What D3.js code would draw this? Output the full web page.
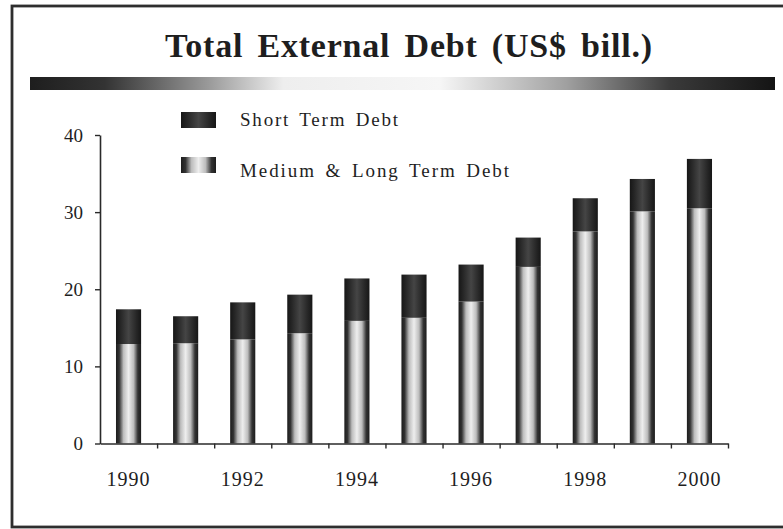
<!DOCTYPE html>
<html>
<head>
<meta charset="utf-8">
<script src="https://cdn.jsdelivr.net/npm/d3@7"></script>
<style>
  html, body { margin: 0; padding: 0; background: #fff; }
  svg { display: block; }
  text { font-family: "Liberation Serif", "Times New Roman", serif; fill: #1e1e1e; }
</style>
</head>
<body>
<svg id="chart" width="783" height="529"></svg>
<script>
// External debt, US$ billions
const years = ["1990","1991","1992","1993","1994","1995","1996","1997","1998","1999","2000"];
const mediumLongTerm = [12.9, 13.0, 13.5, 14.3, 15.9, 16.3, 18.4, 22.9, 27.5, 30.1, 30.5];
const shortTerm      = [4.5, 3.5, 4.8, 5.0, 5.5, 5.6, 4.8, 3.8, 4.3, 4.2, 6.4];
const yTicks = [0, 10, 20, 30, 40];
const yearLabels = ["1990","1992","1994","1996","1998","2000"];
const seriesNames = ["Short Term Debt", "Medium & Long Term Debt"];

const svg = d3.select("#chart");
const defs = svg.append("defs");

// cylinder-style shading for the bars and legend swatches
function hGradient(id, stops) {
  const g = defs.append("linearGradient").attr("id", id)
    .attr("x1", "0%").attr("x2", "100%").attr("y1", "0%").attr("y2", "0%");
  stops.forEach(([o, c]) => g.append("stop").attr("offset", o).attr("stop-color", c));
}
hGradient("gShort", [[0, "#161616"], [0.18, "#262626"], [0.5, "#454545"], [0.82, "#262626"], [1, "#161616"]]);
hGradient("gMedium", [[0, "#1c1c1c"], [0.13, "#333"], [0.3, "#bdbdbd"], [0.5, "#eeeeee"], [0.7, "#bdbdbd"], [0.87, "#333"], [1, "#1c1c1c"]]);
hGradient("gRule", [[0, "#1e1e1e"], [0.1, "#333"], [0.24, "#9a9a9a"], [0.34, "#eeeeee"], [0.55, "#f6f6f6"], [0.72, "#a0a0a0"], [0.86, "#3a3a3a"], [1, "#141414"]]);

// outer frame
svg.append("rect")
  .attr("x", 12).attr("y", 6).attr("width", 790).attr("height", 521)
  .attr("fill", "none").attr("stroke", "#2e2e2e").attr("stroke-width", 2.8);

// title and shaded rule under it
svg.append("text")
  .attr("x", 165).attr("y", 57)
  .attr("textLength", 487).attr("lengthAdjust", "spacing")
  .style("font-size", "34px").style("font-weight", "bold").style("word-spacing", "5px")
  .text("Total External Debt (US$ bill.)");
svg.append("rect")
  .attr("x", 30).attr("y", 77).attr("width", 745).attr("height", 13)
  .attr("fill", "url(#gRule)");

// scales
const xLeft = 100, xRight = 728;
const x = d3.scaleBand().domain(years).range([xLeft, xRight])
  .paddingInner(0.56).paddingOuter(0.28);
const xEdges = d3.scaleLinear().domain([0, years.length]).range([xLeft, xRight]);
const y = d3.scaleLinear().domain([0, 40]).range([443.5, 135]);

// stacked data
const rows = years.map((yr, i) => ({ year: yr, medium: mediumLongTerm[i], short: shortTerm[i] }));
const stack = d3.stack().keys(["medium", "short"])(rows);
const fills = { medium: "url(#gMedium)", short: "url(#gShort)" };

svg.append("g").selectAll("g").data(stack).join("g")
  .attr("fill", d => fills[d.key])
  .selectAll("rect").data(d => d).join("rect")
  .attr("x", d => x(d.data.year))
  .attr("width", x.bandwidth())
  .attr("y", d => y(d[1]))
  .attr("height", d => y(d[0]) - y(d[1]));

// y axis
const yAxis = svg.append("g").attr("transform", `translate(${xLeft},0)`)
  .call(d3.axisLeft(y).tickValues(yTicks).tickSize(5).tickSizeOuter(0).tickPadding(12));
yAxis.select(".domain").attr("stroke", "#2a2a2a").attr("stroke-width", 1.6);
yAxis.selectAll(".tick line").attr("stroke", "#2a2a2a").attr("stroke-width", 1.4);
yAxis.selectAll(".tick text")
  .style("font-size", "19px").style("font-family", "Liberation Serif, serif").attr("fill", "#222");

// x axis with ticks between categories
const xAxis = svg.append("g").attr("transform", `translate(0,${y(0)})`)
  .call(d3.axisBottom(xEdges).tickValues(d3.range(1, years.length + 1))
    .tickSize(5).tickSizeOuter(0).tickFormat(""));
xAxis.select(".domain").attr("stroke", "#2a2a2a").attr("stroke-width", 1.6);
xAxis.selectAll(".tick line").attr("stroke", "#2a2a2a").attr("stroke-width", 1.4);

svg.append("g").selectAll("text").data(yearLabels).join("text")
  .attr("x", d => x(d) + x.bandwidth() / 2)
  .attr("y", 486)
  .attr("text-anchor", "middle")
  .style("font-size", "20px").style("letter-spacing", "1px")
  .text(d => d);

// legend
const legend = svg.append("g");
const legendRows = [
  { name: seriesNames[0], fill: fills.short, sy: 112, ty: 126, w: 158 },
  { name: seriesNames[1], fill: fills.medium, sy: 157, ty: 177, w: 269 }
];
legendRows.forEach(r => {
  legend.append("rect").attr("x", 181).attr("y", r.sy).attr("width", 35).attr("height", 16)
    .attr("fill", r.fill);
  legend.append("text").attr("x", 240).attr("y", r.ty)
    .attr("textLength", r.w).attr("lengthAdjust", "spacing")
    .style("font-size", "19px").style("word-spacing", "3px").text(r.name);
});
</script>
</body>
</html>
